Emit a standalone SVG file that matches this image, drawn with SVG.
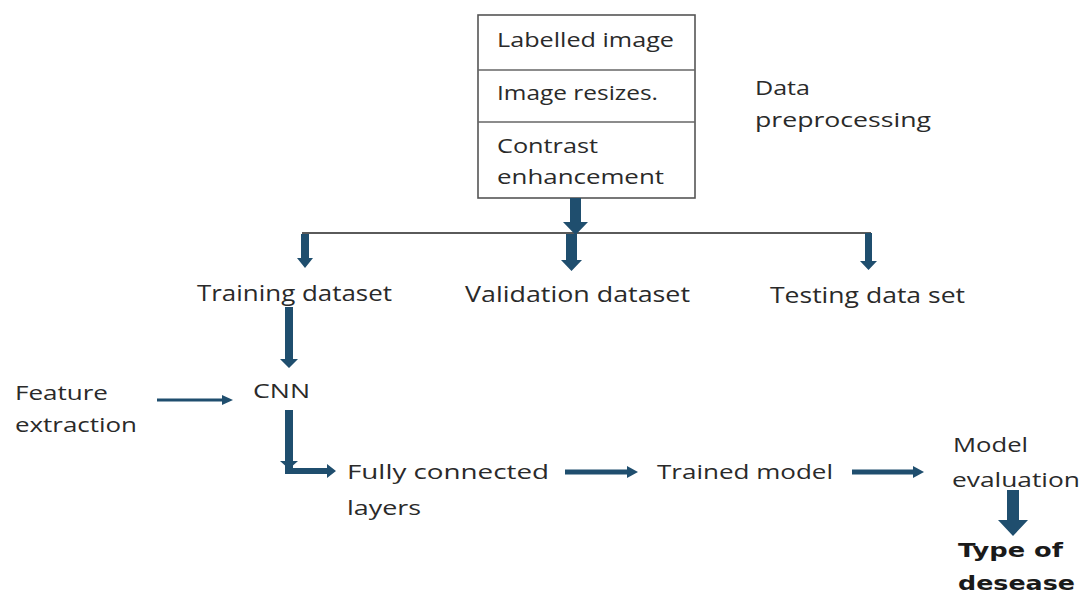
<svg xmlns="http://www.w3.org/2000/svg" width="1082" height="596" viewBox="0 0 1082 596">
  <style>
    .t { font-family: "Open Sans", "Liberation Sans", sans-serif; font-size: 20.5px; fill: #2a2a2a; }
    .l { font-size: 22px; }
    .b { font-family: "DejaVu Sans", "Liberation Sans", sans-serif; font-weight: bold; font-size: 20px; fill: #1a1a1a; }
    .arr { fill: #1f4e6e; stroke: none; }
    .ln { stroke: #1f4e6e; fill: none; }
    .box { fill: #ffffff; stroke: #555555; stroke-width: 1.6; }
    .div { stroke: #666666; stroke-width: 1.6; }
    .branch { stroke: #5a5a5a; stroke-width: 2; fill: none; }
  </style>
  <rect width="1082" height="596" fill="#ffffff"/>

  <g id="preprocessing-box">
    <rect class="box" x="478" y="15" width="217" height="183"/>
    <line class="div" x1="478" y1="70" x2="695" y2="70"/>
    <line class="div" x1="478" y1="122" x2="695" y2="122"/>
    <text class="t" x="497" y="47" textLength="177" lengthAdjust="spacingAndGlyphs">Labelled image</text>
    <text class="t" x="497" y="100" textLength="161" lengthAdjust="spacingAndGlyphs">Image resizes.</text>
    <text class="t" x="497" y="153" textLength="101" lengthAdjust="spacingAndGlyphs">Contrast</text>
    <text class="t" x="497" y="184" textLength="167" lengthAdjust="spacingAndGlyphs">enhancement</text>
  </g>

  <g id="data-preprocessing-label">
    <text class="t" x="755" y="95" textLength="55" lengthAdjust="spacingAndGlyphs">Data</text>
    <text class="t" x="755" y="127" textLength="176" lengthAdjust="spacingAndGlyphs">preprocessing</text>
  </g>

  <g id="training-dataset">
    <text class="t l" x="197" y="301" textLength="195" lengthAdjust="spacingAndGlyphs">Training dataset</text>
  </g>
  <g id="validation-dataset">
    <text class="t l" x="465" y="302" textLength="225" lengthAdjust="spacingAndGlyphs">Validation dataset</text>
  </g>
  <g id="testing-dataset">
    <text class="t l" x="770" y="303" textLength="195" lengthAdjust="spacingAndGlyphs">Testing data set</text>
  </g>

  <g id="feature-extraction">
    <text class="t" x="15" y="400" textLength="93" lengthAdjust="spacingAndGlyphs">Feature</text>
    <text class="t" x="15" y="432" textLength="122" lengthAdjust="spacingAndGlyphs">extraction</text>
  </g>

  <g id="cnn">
    <text class="t" x="253" y="398" textLength="57" lengthAdjust="spacingAndGlyphs">CNN</text>
  </g>

  <g id="fully-connected">
    <text class="t" x="347" y="479" textLength="202" lengthAdjust="spacingAndGlyphs">Fully connected</text>
    <text class="t" x="347" y="515" textLength="74" lengthAdjust="spacingAndGlyphs">layers</text>
  </g>

  <g id="trained-model">
    <text class="t" x="657" y="479" textLength="176" lengthAdjust="spacingAndGlyphs">Trained model</text>
  </g>

  <g id="model-evaluation">
    <text class="t" x="953" y="452" textLength="75" lengthAdjust="spacingAndGlyphs">Model</text>
    <text class="t" x="952" y="487" textLength="128" lengthAdjust="spacingAndGlyphs">evaluation</text>
  </g>

  <g id="type-of-disease">
    <text class="b" x="958" y="557" textLength="105" lengthAdjust="spacingAndGlyphs">Type of</text>
    <text class="b" x="958" y="590" textLength="117" lengthAdjust="spacingAndGlyphs">desease</text>
  </g>

  <g id="connectors">
    <!-- branch line -->
    <line class="branch" x1="302" y1="233" x2="871" y2="233"/>
    <!-- box to branch -->
    <polygon class="arr" points="570,198 581,198 581,222 588,222 575.5,235 563,222 570,222"/>
    <!-- branch to training -->
    <polygon class="arr" points="301,234 309,234 309,258 313,258 305,268 297,258 301,258"/>
    <!-- branch to validation -->
    <polygon class="arr" points="566,234 577,234 577,260 582,260 571.5,271 561,260 566,260"/>
    <!-- branch to testing -->
    <polygon class="arr" points="865,233 872,233 872,261 877,261 868.5,270 860,261 865,261"/>
    <!-- training to CNN -->
    <polygon class="arr" points="285,307 293,307 293,359 298,359 289,368 280,359 285,359"/>
    <!-- feature extraction to CNN -->
    <line class="ln" x1="157" y1="400" x2="224" y2="400" stroke-width="3"/>
    <polygon class="arr" points="222,395 233,400 222,405"/>
    <!-- CNN to fully connected (elbow) -->
    <polygon class="arr" points="285,410 293,410 293,468 327,468 327,464 336,471 327,478 327,474 285,474"/>
    <polygon class="arr" points="280,461 298,461 289,469"/>
    <!-- fully connected to trained model -->
    <line class="ln" x1="565" y1="472" x2="629" y2="472" stroke-width="5"/>
    <polygon class="arr" points="627,466 638,472 627,478"/>
    <!-- trained model to model evaluation -->
    <line class="ln" x1="852" y1="472" x2="915" y2="472" stroke-width="5"/>
    <polygon class="arr" points="913,466 924,472 913,478"/>
    <!-- model evaluation to type of disease -->
    <polygon class="arr" points="1007,490 1019,490 1019,520 1028,520 1013,536 998,520 1007,520"/>
  </g>
</svg>
